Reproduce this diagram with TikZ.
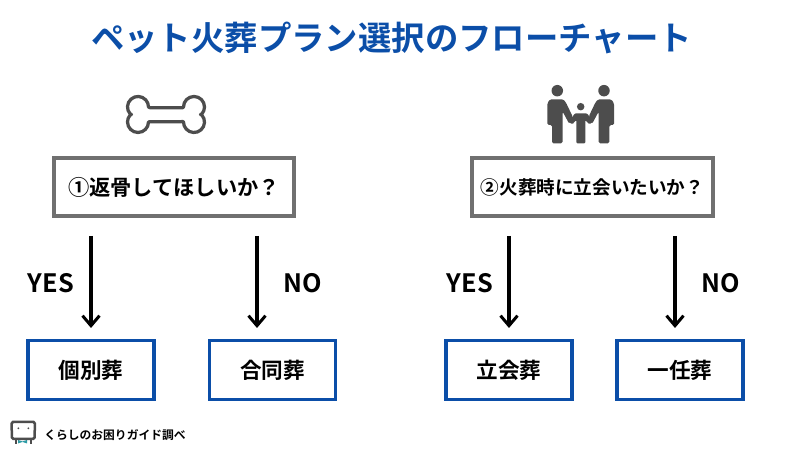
\documentclass[tikz,border=0pt]{standalone}
\usepackage{fontspec}
\setmainfont{Noto Sans CJK JP}[BoldFont={Noto Sans CJK JP Bold}]
\usetikzlibrary{arrows.meta}
\usetikzlibrary{positioning}
\definecolor{planblue}{HTML}{0B4EA8}
\definecolor{framegray}{HTML}{707070}
\definecolor{icongray}{HTML}{4D4D4D}
\definecolor{bowteal}{HTML}{2E9CA6}
\tikzset{
  question/.style={draw=framegray,line width=0.08cm,fill=white,minimum width=4.82cm,minimum height=1.16cm,inner sep=0pt,font=\bfseries},
  result/.style={draw=planblue,line width=0.07cm,fill=white,minimum width=2.53cm,minimum height=1.18cm,inner sep=0pt,font=\fontsize{12.3}{12.3}\bfseries},
  answer/.style={font=\fontsize{14.4}{14.4}\bfseries,inner sep=0pt},
  choice/.style={-{Straight Barb[length=0.2cm,width=0.34cm,line width=0.06cm]},line width=0.07cm}
}
\begin{document}
\begin{tikzpicture}[x=0.02cm,y=0.02cm]
\useasboundingbox (0,0) rectangle (795,465);
\node[text=planblue,font=\fontsize{19}{19}\bfseries,inner sep=0pt] (title) at (391.5,427) {ペット火葬プラン選択のフローチャート};
\node[question,font=\fontsize{12.1}{12.1}\bfseries] (q1) at (174,278) {①返骨してほしいか？};
\node[question,font=\fontsize{10.6}{10.6}\bfseries] (q2) at (592.5,278) {②火葬時に立会いたいか？};
\node[result] (kobetsu) at (91,95) {個別葬};
\node[result] (goudou) at (272.5,95) {合同葬};
\node[result] (tachiai) at (509,95) {立会葬};
\node[result] (ichinin) at (680,95) {一任葬};
\coordinate (s1) at (91,229);
\coordinate (e1) at (91,137);
\coordinate (s2) at (257,229);
\coordinate (e2) at (257,137);
\coordinate (s3) at (509,229);
\coordinate (e3) at (509,137);
\coordinate (s4) at (675,229);
\coordinate (e4) at (675,137);
\draw[choice] (s1)--(e1);
\draw[choice] (s2)--(e2);
\draw[choice] (s3)--(e3);
\draw[choice] (s4)--(e4);
\node[answer] (yes1) at (51,182) {YES};
\node[answer] (no1) at (303,182) {NO};
\node[answer] (yes2) at (470,182) {YES};
\node[answer] (no2) at (721,182) {NO};
% bone
\draw[icongray,line width=0.065cm,line join=round,fill=white]
  (150,357.3)--(181,357.3) to[out=0,in=-90] (183.5,358)
  arc[start angle=180,end angle=-42,radius=0.21cm]
  --(200.5,350.5)--(201.8,350)
  arc[start angle=42,end angle=-180,radius=0.21cm]
  to[out=90,in=0] (181,343.3)--(150,343.3) to[out=180,in=90] (148.5,343)
  arc[start angle=0,end angle=-222,radius=0.21cm]
  --(131.5,350.5)--(130.2,351)
  arc[start angle=222,end angle=0,radius=0.21cm]
  to[out=-90,in=180] cycle;
% family
\fill[icongray] (557.3,374.3) circle[radius=0.115cm];
\fill[icongray] (604,374.3) circle[radius=0.115cm];
\fill[icongray] (580.7,358.3) circle[radius=0.075cm];
\fill[icongray,rounded corners=0.03cm] (547.3,361.7)--(550,365.7)--(563.3,365.7)--(566,362.3)--(572.7,348.3)--(569.3,341)--(562.7,353.3)--(562.7,321.7)--(552,321.7)--(552,340)--(547.3,340)--cycle;
\begin{scope}[shift={(1161.33,0)},xscale=-1]
\fill[icongray,rounded corners=0.03cm] (547.3,361.7)--(550,365.7)--(563.3,365.7)--(566,362.3)--(572.7,348.3)--(569.3,341)--(562.7,353.3)--(562.7,321.7)--(552,321.7)--(552,340)--(547.3,340)--cycle;
\end{scope}
\fill[icongray,rounded corners=0.02cm] (575,351.7)--(586.7,351.7)--(590.7,347.3)--(593.3,343.3)--(589.3,340.7)--(585.3,345)--(585.3,321.7)--(576.3,321.7)--(576.3,345)--(572.3,340.7)--(568.3,343.3)--(571.7,347.3)--cycle;
% mascot
\draw[icongray,line width=0.03cm] (16,27)--(16,21);
\draw[icongray,line width=0.03cm] (31,27)--(31,21);
\fill[bowteal] (18,25)--(22.5,23.5)--(27,25)--(27,21.5)--(22.5,23)--(18,21.5)--cycle;
\draw[icongray,line width=0.05cm,fill=white,rounded corners=0.03cm] (12,26)--(11.5,43)--(35,43)--(34.5,26)--cycle;
\fill[icongray] (18.3,36.7) circle[radius=0.02cm];
\fill[icongray] (28.3,36.7) circle[radius=0.02cm];
\node[anchor=west,font=\fontsize{6.7}{6.7}\bfseries,inner sep=0pt] (source) at (44,30) {くらしのお困りガイド調べ};
\end{tikzpicture}
\end{document}
